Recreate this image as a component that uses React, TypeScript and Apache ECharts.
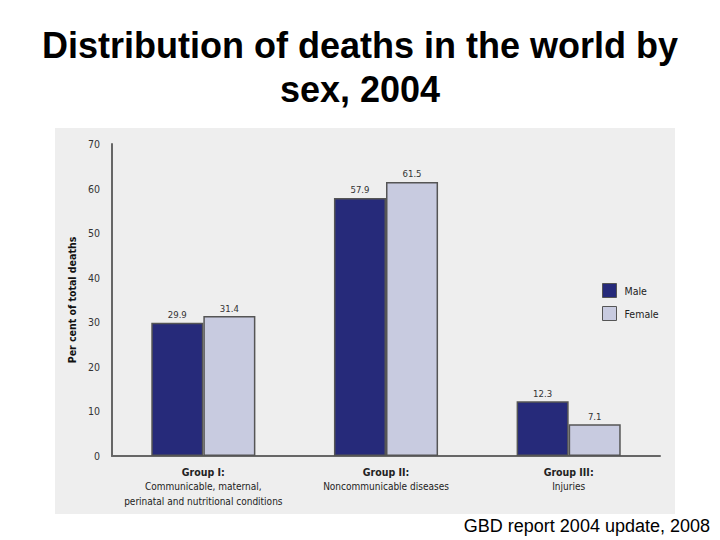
import React, { useEffect, useRef } from "react";
import * as echarts from "echarts";

const categories = [
  "{b|Group I:}\nCommunicable, maternal,\nperinatal and nutritional conditions",
  "{b|Group II:}\nNoncommunicable diseases",
  "{b|Group III:}\nInjuries",
];
const maleValues = [29.9, 57.9, 12.3];
const femaleValues = [31.4, 61.5, 7.1];
const seriesNames = ["Male", "Female"];
const yTicks = [0, 10, 20, 30, 40, 50, 60, 70];
const titleLines = ["Distribution of deaths in the world by", "sex, 2004"];

const NARROW = "'DejaVu Sans Condensed', 'Liberation Sans Narrow', 'Liberation Sans', sans-serif";
const ARIAL = "'Liberation Sans', Arial, sans-serif";

export default function App() {
  const ref = useRef<HTMLDivElement>(null);
  useEffect(() => {
    if (!ref.current) return;
    const chart = echarts.init(ref.current, null, { renderer: "svg" });
    const labelStyle = {
      show: true,
      position: "top" as const,
      distance: 3,
      fontFamily: NARROW,
      fontSize: 9.5,
      color: "#333",
      formatter: (p: any) => Number(p.value).toFixed(1),
    };
    const titleStyle = {
      fontFamily: ARIAL,
      fontWeight: "bold",
      fontSize: 36,
      fill: "#000",
      textShadowColor: "#a8a8a8",
      textShadowOffsetX: 2,
      textShadowOffsetY: 2,
      textShadowBlur: 0,
    };
    chart.setOption({
      animation: false,
      backgroundColor: "#ffffff",
      graphic: [
        {
          type: "rect",
          z: -10,
          shape: { x: 55, y: 128, width: 620, height: 386 },
          style: { fill: "#eeeeee" },
          silent: true,
        },
        {
          type: "text",
          left: "center",
          top: 27,
          style: { ...titleStyle, text: titleLines[0] },
        },
        {
          type: "text",
          left: "center",
          top: 71,
          style: { ...titleStyle, text: titleLines[1] },
        },
        {
          type: "text",
          right: 10,
          top: 517,
          style: {
            text: "GBD report 2004 update, 2008",
            fontFamily: ARIAL,
            fontSize: 18,
            fill: "#000",
          },
        },
      ],
      legend: {
        orient: "vertical",
        left: 602,
        top: 283,
        padding: 0,
        itemWidth: 14,
        itemHeight: 14,
        itemGap: 8,
        icon: "rect",
        data: seriesNames,
        itemStyle: { borderColor: "#555", borderWidth: 1 },
        textStyle: { fontFamily: NARROW, fontSize: 10.5, color: "#222", padding: [0, 0, 0, 3] },
      },
      grid: { left: 112, right: 60, top: 144, bottom: 84, containLabel: false },
      xAxis: {
        type: "category",
        data: categories,
        axisLine: { lineStyle: { color: "#666", width: 2 } },
        axisTick: { show: false },
        axisLabel: {
          interval: 0,
          margin: 8,
          fontFamily: NARROW,
          fontSize: 10,
          lineHeight: 15,
          color: "#222",
          rich: {
            b: { fontFamily: NARROW, fontSize: 10.5, fontWeight: "bold", color: "#222", lineHeight: 15 },
          },
        },
      },
      yAxis: {
        type: "value",
        min: yTicks[0],
        max: yTicks[yTicks.length - 1],
        interval: 10,
        name: "Per cent of total deaths",
        nameLocation: "middle",
        nameGap: 30,
        nameTextStyle: { fontFamily: NARROW, fontSize: 10.5, fontWeight: "bold", color: "#111" },
        axisLine: { show: true, lineStyle: { color: "#666", width: 2 } },
        axisTick: { show: false },
        splitLine: { show: false },
        axisLabel: { fontFamily: NARROW, fontSize: 10.5, color: "#333", margin: 12 },
      },
      series: [
        {
          name: seriesNames[0],
          type: "bar",
          data: maleValues,
          barGap: "0%",
          barCategoryGap: "43%",
          itemStyle: { color: "#262a7a", borderColor: "#555", borderWidth: 1.5 },
          label: labelStyle,
        },
        {
          name: seriesNames[1],
          type: "bar",
          data: femaleValues,
          itemStyle: { color: "#c8cbe0", borderColor: "#555", borderWidth: 1.5 },
          label: labelStyle,
        },
      ],
    });
    return () => chart.dispose();
  }, []);
  return (
    <div
      ref={ref}
      style={{ position: "fixed", left: 0, top: 0, width: 720, height: 540 }}
    />
  );
}
